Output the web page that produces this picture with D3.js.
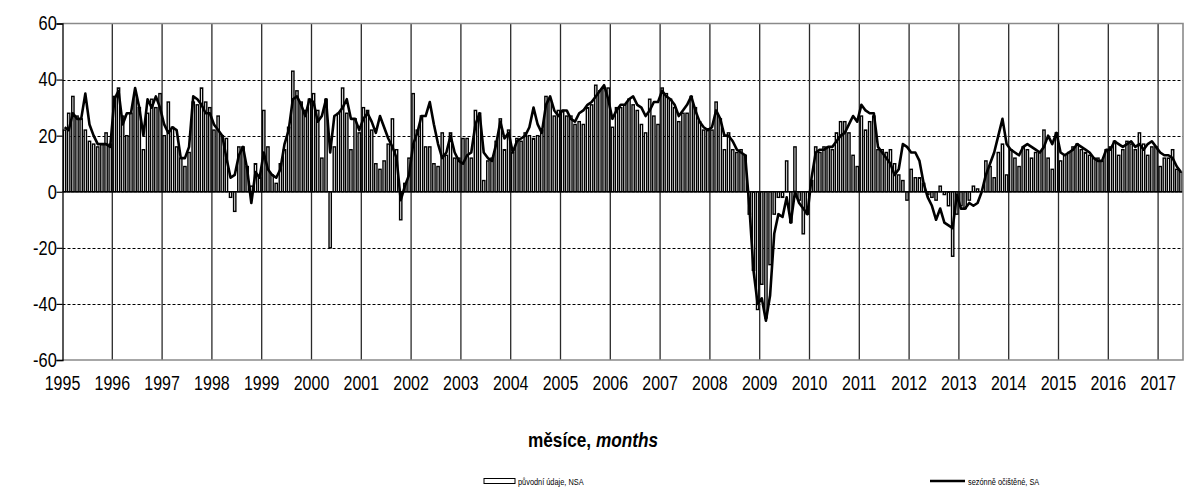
<!DOCTYPE html>
<html><head><meta charset="utf-8">
<script src="https://cdn.jsdelivr.net/npm/d3@7"></script>
<style>
body{margin:0;background:#fff}
svg{display:block}
text{font-family:"Liberation Sans",Arial,sans-serif;fill:#000}
</style>
</head><body>
<svg id="c" width="1186" height="488"></svg>
<script>
// ---- data ----
const yearLabels = ["1995","1996","1997","1998","1999","2000","2001","2002","2003","2004","2005","2006","2007","2008","2009","2010","2011","2012","2013","2014","2015","2016","2017"];
const yTicks = [-60,-40,-20,0,20,40,60];

// původní údaje, NSA (monthly)
const nsa1995 = [22,28,34,27,26,22,18,17,16,17,21,17];
const nsa1996 = [34,37,27,20,28,35,30,15,28,33,30,35];
const nsa1997 = [20,32,23,16,12,9,14,32,31,37,32,30];
const nsa1998 = [22,27,20,19,-2,-7,16,16,9,2,10,5];
const nsa1999 = [29,16,6,3,10,15,23,43,36,32,29,33];
const nsa2000 = [35,29,12,33,-20,16,28,37,28,15,26,21];
const nsa2001 = [30,29,22,10,8,11,17,26,15,-10,3,12];
const nsa2002 = [35,22,27,16,16,10,9,21,13,21,12,12];
const nsa2003 = [19,19,12,29,28,4,11,12,18,26,15,22];
const nsa2004 = [14,19,18,21,20,19,20,22,34,33,27,29];
const nsa2005 = [29,27,27,24,25,24,30,31,38,36,37,37];
const nsa2006 = [23,30,30,31,33,31,29,24,21,33,27,24];
const nsa2007 = [37,35,33,30,25,28,28,34,30,25,22,22];
const nsa2008 = [22,32,26,15,21,15,14,15,13,-8,-28,-42];
const nsa2009 = [-33,-45,-26,-8,-2,-2,11,-11,16,-3,-15,-8];
const nsa2010 = [4,16,14,16,16,15,21,25,25,21,13,9];
const nsa2011 = [27,22,25,27,15,15,14,15,10,6,4,-3];
const nsa2012 = [8,5,5,3,-1,-2,-3,2,-1,-5,-23,-8];
const nsa2013 = [-5,-6,-3,2,1,0,11,9,5,14,17,6];
const nsa2014 = [15,12,9,16,15,12,14,14,22,12,8,21];
const nsa2015 = [11,13,14,16,17,15,14,13,12,12,11,15];
const nsa2016 = [16,18,13,15,18,17,15,21,17,13,16,16];
const nsa2017 = [9,12,12,15,8,7];

// sezónně očištěné, SA (monthly)
const sa1995 = [23,22,28,26,26,35,24,20,17,17,17,16];
const sa1996 = [33,36,24,28,28,37,30,20,33,30,34,30];
const sa1997 = [24,21,23,22,12,12,16,34,33,31,28,28];
const sa1998 = [24,22,20,12,5,6,13,16,8,-4,7,5];
const sa1999 = [14,8,6,5,8,17,22,33,34,31,27,33];
const sa2000 = [32,25,27,33,14,27,28,30,33,26,26,22];
const sa2001 = [26,28,25,21,27,23,19,16,12,-3,2,6];
const sa2002 = [17,21,27,27,32,24,17,12,14,20,14,11];
const sa2003 = [10,13,14,24,28,14,12,11,17,25,19,21];
const sa2004 = [14,18,19,20,23,30,24,21,31,34,29,27];
const sa2005 = [29,29,26,25,28,29,31,32,34,36,38,33];
const sa2006 = [26,29,31,31,33,34,31,30,27,29,32,32];
const sa2007 = [36,34,33,31,27,29,31,34,29,25,23,22];
const sa2008 = [23,29,26,20,20,18,15,14,13,-5,-28,-40];
const sa2009 = [-38,-46,-37,-15,-8,-9,-2,-11,0,-4,-6,-8];
const sa2010 = [5,14,15,15,16,16,18,20,21,24,27,25];
const sa2011 = [31,29,28,28,16,14,12,10,6,8,17,16];
const sa2012 = [14,14,11,3,-2,-5,-10,-6,-11,-12,-13,-1];
const sa2013 = [-6,-6,-4,-5,-4,0,6,10,14,20,26,17];
const sa2014 = [15,14,13,16,17,16,15,14,16,20,17,21];
const sa2015 = [14,13,14,15,17,16,15,14,12,11,11,15];
const sa2016 = [15,18,17,16,17,18,16,17,15,17,18,16];
const sa2017 = [14,13,13,12,9,7];

const nsa = [].concat(nsa1995,nsa1996,nsa1997,nsa1998,nsa1999,nsa2000,nsa2001,nsa2002,nsa2003,nsa2004,nsa2005,nsa2006,nsa2007,nsa2008,nsa2009,nsa2010,nsa2011,nsa2012,nsa2013,nsa2014,nsa2015,nsa2016,nsa2017);
const sa = [].concat(sa1995,sa1996,sa1997,sa1998,sa1999,sa2000,sa2001,sa2002,sa2003,sa2004,sa2005,sa2006,sa2007,sa2008,sa2009,sa2010,sa2011,sa2012,sa2013,sa2014,sa2015,sa2016,sa2017);
const months = nsa.map((_, i) => i);

// ---- layout ----
const L = 62.5, R = 1183, T = 23.5, B = 360;
const SX = 0.82; // condensed text look
const svg = d3.select("#c");
const x = d3.scaleBand().domain(months).range([L, R]).padding(0);
const step = x.step();
const y = d3.scaleLinear().domain([-60, 60]).range([B, T]);

// horizontal dashed gridlines
svg.append("g").selectAll("line").data(yTicks.filter(v => v !== 0 && Math.abs(v) !== 60)).join("line")
  .attr("x1", L).attr("x2", R).attr("y1", d => Math.round(y(d)) + 0.5).attr("y2", d => Math.round(y(d)) + 0.5)
  .attr("stroke", "#000").attr("stroke-width", 1).attr("stroke-dasharray", "3,2");

// vertical year lines
const yearIdx = yearLabels.map((_, k) => k * 12);
svg.append("g").selectAll("line").data(yearIdx.slice(1)).join("line")
  .attr("x1", d => x(d)).attr("x2", d => x(d)).attr("y1", T).attr("y2", B)
  .attr("stroke", "#2a2a2a").attr("stroke-width", 1.3);

// bars
const bw = step * 0.55;
svg.append("g").selectAll("rect").data(months).join("rect")
  .attr("x", i => x(i) + (step - bw) / 2)
  .attr("width", bw)
  .attr("y", i => y(Math.max(0, nsa[i])))
  .attr("height", i => Math.abs(y(nsa[i]) - y(0)))
  .attr("fill", "#fff").attr("stroke", "#000").attr("stroke-width", 1.4);

// zero line
svg.append("line").attr("x1", L).attr("x2", R).attr("y1", y(0)).attr("y2", y(0))
  .attr("stroke", "#000").attr("stroke-width", 1.3);

// SA line
const line = d3.line().x(i => x(i) + step / 2).y(i => y(sa[i]));
svg.append("path").datum(months).attr("d", line)
  .attr("fill", "none").attr("stroke", "#000").attr("stroke-width", 2.6).attr("stroke-linejoin", "round");

// frame (top, right, bottom)
svg.append("path").attr("d", `M${L},${T}H${R}V${B}H${L}`).attr("fill", "none")
  .attr("stroke", "#8a8a8a").attr("stroke-width", 1.6);

// left axis
const yAxis = d3.axisLeft(y).tickValues(yTicks).tickSize(6).tickPadding(1).tickFormat(d => String(d));
const ga = svg.append("g").attr("transform", `translate(${L},0)`).call(yAxis);
ga.select(".domain").attr("stroke", "#000").attr("stroke-width", 1.3);
ga.selectAll(".tick line").attr("stroke", "#000").attr("stroke-width", 1.2);
ga.selectAll(".tick text").attr("font-size", 20).attr("font-family", null).attr("fill", "#000")
  .attr("transform", `scale(${SX},1)`);

// x labels
svg.append("g").selectAll("text").data(yearLabels).join("text")
  .attr("transform", (d, k) => `translate(${k < 22 ? x(k * 12) : x(264)},390) scale(${SX},1)`)
  .attr("text-anchor", "middle").attr("font-size", 19.5).text(d => d);

// axis title
const title = svg.append("text").attr("transform", `translate(593,447) scale(${SX},1)`).attr("text-anchor", "middle")
  .attr("font-size", 21).attr("font-weight", "bold");
title.append("tspan").text("měsíce, ");
title.append("tspan").attr("font-style", "italic").text("months");

// legend
svg.append("rect").attr("x", 484).attr("y", 478.5).attr("width", 31).attr("height", 5)
  .attr("fill", "#fff").attr("stroke", "#000").attr("stroke-width", 1);
svg.append("text").attr("transform", `translate(518,484.5) scale(${SX},1)`).attr("font-size", 9).text("původní údaje, NSA");
svg.append("line").attr("x1", 930).attr("x2", 965).attr("y1", 481).attr("y2", 481)
  .attr("stroke", "#000").attr("stroke-width", 2.5);
svg.append("text").attr("transform", `translate(968,484.5) scale(${SX},1)`).attr("font-size", 9).text("sezónně očištěné, SA");
</script>
</body></html>
